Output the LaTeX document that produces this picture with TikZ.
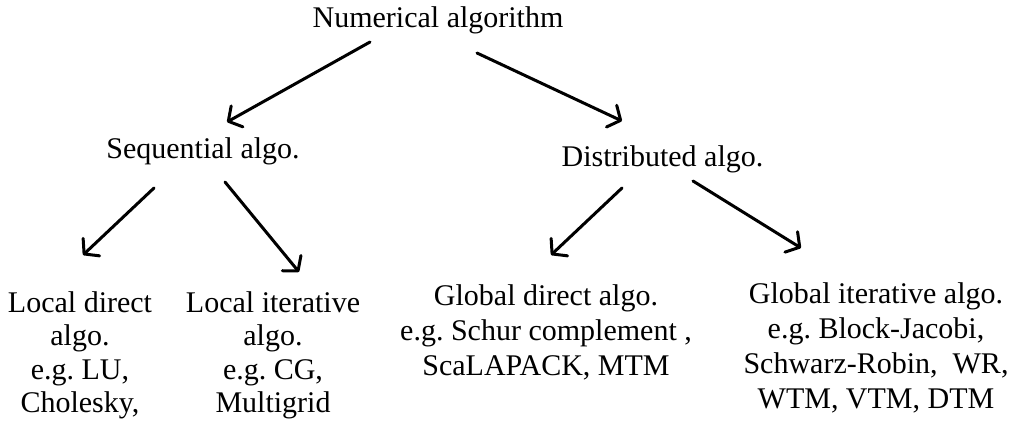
\documentclass[tikz,border=0pt]{standalone}
\usepackage{fontspec}
\setmainfont{Liberation Serif}
\usetikzlibrary{arrows.meta,calc}
\frenchspacing

\tikzset{
  lbl/.style={inner sep=0pt, anchor=base, align=center,
              font=\fontsize{30pt}{33.5pt}\selectfont},
  lblwide/.style={lbl, font=\fontsize{30pt}{35pt}\selectfont},
  arr/.style={line width=3pt, line cap=round, line join=round,
              -{Straight Barb[length=10pt,width=24pt,line cap=round,line join=round]}}
}

\begin{document}
\begin{tikzpicture}[x=1pt,y=-1pt]
\useasboundingbox (0,0) rectangle (1016,432);

% tree levels (base of a multi-line label is its last baseline)
\node[lbl] (num)  at (438,27)    {Numerical algorithm};
\node[lbl] (seq)  at (203,158)   {Sequential algo.};
\node[lbl] (dist) at (662.5,166) {Distributed algo.};

\node[lbl] (ld) at (80,412.5)  {Local direct\\algo.\\e.g. LU,\\Cholesky,};
\node[lbl] (li) at (273,412.5) {Local iterative\\algo.\\e.g. CG,\\Multigrid};
\node[lblwide] (gd) at (546,375) {Global direct algo.\\e.g. Schur complement ,\\ScaLAPACK, MTM};
\node[lblwide] (gi) at (876,408) {Global iterative algo.\\e.g. Block-Jacobi,\\Schwarz-Robin,\ \ WR,\\WTM, VTM, DTM};

% connectors
\draw[arr] ($(num.base)+(-68,15)$)    -- ($(seq.base)+(24,-36)$);
\draw[arr] ($(num.base)+(39,26)$)     -- ($(dist.base)+(-40.5,-45)$);
\draw[arr] ($(seq.base)+(-49,30)$)    -- ($(ld.base)+(3,-157.5)$);
\draw[arr] ($(seq.base)+(22,24)$)     -- ($(li.base)+(26,-140.5)$);
\draw[arr] ($(dist.base)+(-40.5,22)$) -- ($(gd.base)+(5,-120)$);
\draw[arr] ($(dist.base)+(30.5,15)$)  -- ($(gi.base)+(-75,-160)$);
\end{tikzpicture}
\end{document}
